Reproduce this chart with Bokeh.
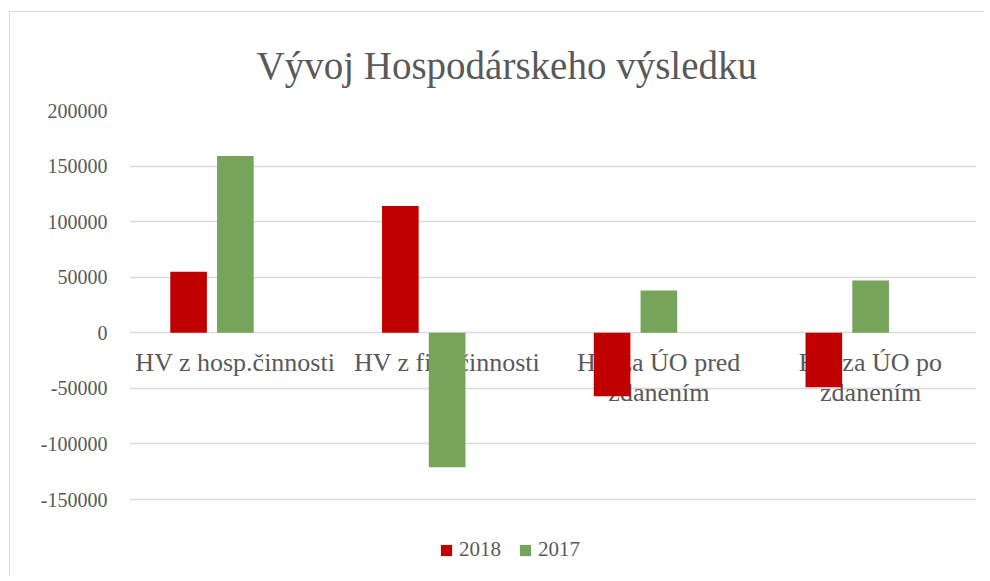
from bokeh.plotting import figure
from bokeh.models import (FactorRange, FixedTicker, NumeralTickFormatter, Legend,
                          LegendItem, ColumnDataSource)
from bokeh.transform import dodge
from bokeh.core.properties import value
from bokeh.embed import file_html
from bokeh.resources import INLINE

# ---- data ----
categories = ["HV z hosp.činnosti", "HV z fin. činnosti",
              "HV za ÚO pred zdanením", "HV za ÚO po zdanením"]
category_labels = ["HV z hosp.činnosti", "HV z fin. činnosti",
                   "HV za ÚO pred\nzdanením", "HV za ÚO po\nzdanením"]
values_2018 = [55000, 114000, -57000, -49000]
values_2017 = [159000, -121000, 38000, 47000]
series_names = ["2018", "2017"]
y_ticks = [-150000, -100000, -50000, 0, 50000, 100000, 150000, 200000]

FONT = "Liberation Serif"
TEXT = "#595959"
GRID = "#D9D9D9"
RED = "#C00000"
GREEN = "#76A45B"

source = ColumnDataSource(dict(cat=categories, lab=category_labels,
                               v2018=values_2018, v2017=values_2017,
                               zero=[0] * len(categories)))

# frame is extended below the lowest tick so the legend can sit inside it
frame_top_px, axis_bottom_px, frame_bottom_px = 110, 499, 573
per_px = (y_ticks[-1] - y_ticks[0]) / (axis_bottom_px - frame_top_px)
y_start = y_ticks[0] - (frame_bottom_px - axis_bottom_px) * per_px

p = figure(x_range=FactorRange(*categories, range_padding=0),
           y_range=(y_start, y_ticks[-1]),
           width=975, height=565, output_backend="svg", toolbar_location=None,
           min_border_left=119, min_border_right=9, min_border_top=98,
           min_border_bottom=4)
p.styles = {"border-top": "1px solid #D9D9D9", "border-left": "1px solid #D9D9D9",
            "margin-top": "11px", "margin-left": "9px"}
p.outline_line_color = None
p.background_fill_color = "white"
p.border_fill_color = "white"

# title
p.title.text = "Vývoj Hospodárskeho výsledku"
p.title.text_font = FONT
p.title.text_font_size = "39px"
p.title.text_font_style = "normal"
p.title.text_color = TEXT
p.title.align = "left"
p.title.vertical_align = "top"
p.title.offset = 127
p.title.standoff = 44

# axes
p.xaxis.visible = False
p.xgrid.grid_line_color = None
p.ygrid.grid_line_color = GRID
p.ygrid.grid_line_width = 1.6
p.ygrid.ticker = FixedTicker(ticks=y_ticks)
p.yaxis.ticker = FixedTicker(ticks=y_ticks)
p.yaxis.formatter = NumeralTickFormatter(format="0")
p.yaxis.axis_line_color = None
p.yaxis.major_tick_line_color = None
p.yaxis.minor_tick_line_color = None
p.yaxis.major_tick_out = 0
p.yaxis.minor_tick_out = 0
p.yaxis.major_label_text_font = FONT
p.yaxis.major_label_text_font_size = "20px"
p.yaxis.major_label_text_color = TEXT
p.yaxis.major_label_standoff = 22

# category labels (drawn beneath bars, next to the zero line)
p.text(x="cat", y="zero", text="lab", source=source,
       text_font=value(FONT), text_font_size="26px", text_color=TEXT,
       text_align="center", text_baseline="top", text_line_height=1.05,
       y_offset=15)

step = 0.221
w = 0.173
r1 = p.vbar(x=dodge("cat", -step, range=p.x_range), top="v2018", bottom=0,
            width=w, source=source, fill_color=RED, line_color=None)
r2 = p.vbar(x=dodge("cat", 0.0, range=p.x_range), top="v2017", bottom=0,
            width=w, source=source, fill_color=GREEN, line_color=None)

legend = Legend(items=[LegendItem(label=series_names[0], renderers=[r1]),
                       LegendItem(label=series_names[1], renderers=[r2])],
                orientation="horizontal", location=(310, 11),
                label_text_font=FONT, label_text_font_size="21px",
                label_text_color=TEXT, glyph_width=14, glyph_height=14,
                label_standoff=6, spacing=17, padding=0, margin=0,
                border_line_color=None, background_fill_alpha=0)
p.add_layout(legend, "center")

open("out.html", "w").write(file_html(p, INLINE))
